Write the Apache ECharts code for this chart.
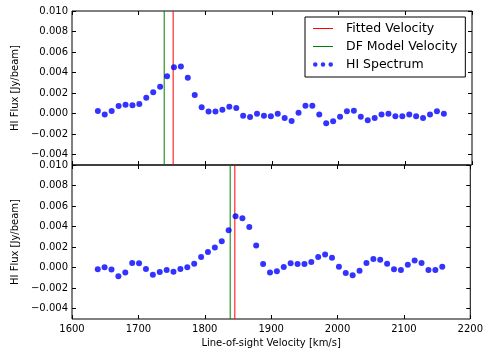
<!DOCTYPE html>
<html>
<head>
<meta charset="utf-8">
<script src="https://cdn.jsdelivr.net/npm/echarts@6/dist/echarts.min.js"></script>
<style>
html,body{margin:0;padding:0;background:#fff;}
#chart{width:486px;height:354px;}
</style>
</head>
<body>
<div id="chart"></div>
<script>
// ---- data ----
const velocity = [1638.8,1649.1,1659.5,1669.9,1680.3,1690.7,1701.0,1711.4,1721.8,1732.2,
  1742.6,1752.9,1763.3,1773.7,1784.1,1794.5,1804.8,1815.2,1825.6,1836.0,
  1846.4,1856.7,1867.1,1877.5,1887.9,1898.3,1908.6,1919.0,1929.4,1939.8,
  1950.2,1960.5,1970.9,1981.3,1991.7,2002.1,2012.4,2022.8,2033.2,2043.6,
  2054.0,2064.3,2074.7,2085.1,2095.5,2105.9,2116.2,2126.6,2137.0,2147.4,2157.8];
const fluxTop = [0.00026,-0.00007,0.00026,0.00075,0.00088,0.00081,0.00094,0.00156,0.00208,0.00263,
  0.00364,0.00452,0.00459,0.00351,0.00182,0.00062,0.0002,0.0002,0.00039,0.00068,
  0.00055,-0.0002,-0.00033,0,-0.0002,-0.00026,0,-0.00042,-0.00072,0.0001,
  0.00078,0.00078,-0.00007,-0.00094,-0.00075,-0.00029,0.00023,0.00029,-0.00029,-0.00065,
  -0.00042,-0.00007,0,-0.00026,-0.00026,-0.00007,-0.00026,-0.00042,-0.00007,0.00023,0];
const fluxBottom = [-0.00016,0.00003,-0.00019,-0.00084,-0.00048,0.00045,0.00042,-0.00013,-0.00068,-0.00042,
  -0.00023,-0.00039,-0.00013,0.00003,0.00039,0.00103,0.00152,0.00197,0.00258,0.00365,
  0.005,0.00481,0.00397,0.00216,0.00035,-0.00048,-0.00035,0.00006,0.00042,0.00035,
  0.00035,0.00055,0.00103,0.00129,0.00097,0.0001,-0.00052,-0.00074,-0.00029,0.00045,
  0.00084,0.00077,0.00039,-0.00016,-0.00023,0.00029,0.00071,0.00045,-0.00023,-0.00023,0.0001];
const fittedVelocity = [1751.7, 1845.3];   // top, bottom
const dfModelVelocity = [1738.3, 1838.3];  // top, bottom
const yTicks = [-0.004,-0.002,0,0.002,0.004,0.006,0.008,0.010];
const xMin = 1600, xMax = 2200, xStep = 100;
const yMin = -0.005, yMax = 0.010;

const FONT = 'DejaVu Sans';
const fmtY = v => (v < 0 ? '\u2212' : '') + Math.abs(v).toFixed(3);

function xAxes(gridIndex, showLabels) {
  const base = {
    type: 'value', gridIndex, min: xMin, max: xMax, interval: xStep,
    axisLine: {show: false, onZero: false}, splitLine: {show: false},
    axisTick: {show: true, inside: true, length: 4, lineStyle: {color: '#000'}}
  };
  return [
    Object.assign({}, base, {
      position: 'bottom',
      axisLabel: {show: showLabels, margin: 5, color: '#000', fontFamily: FONT, fontSize: 10,
        formatter: v => String(Math.round(v))},
      name: showLabels ? 'Line-of-sight Velocity [km/s]' : '',
      nameLocation: 'middle', nameGap: 19,
      nameTextStyle: {color: '#000', fontFamily: FONT, fontSize: 10}
    }),
    Object.assign({}, base, {position: 'top', axisLabel: {show: false}})
  ];
}
function yAxes(gridIndex) {
  const base = {
    type: 'value', gridIndex, min: yMin, max: yMax,
    axisLine: {show: false, onZero: false}, splitLine: {show: false},
    axisTick: {show: true, inside: true, length: 4, lineStyle: {color: '#000'}, customValues: yTicks}
  };
  return [
    Object.assign({}, base, {
      position: 'left',
      axisLabel: {show: true, margin: 4, color: '#000', fontFamily: FONT, fontSize: 10,
        customValues: yTicks, formatter: fmtY},
      name: 'HI Flux [Jy/beam]', nameLocation: 'middle', nameGap: 36, nameRotate: 90,
      nameTextStyle: {color: '#000', fontFamily: FONT, fontSize: 10}
    }),
    Object.assign({}, base, {position: 'right', axisLabel: {show: false}})
  ];
}

function panelSeries(k) {
  const xi = k * 2, yi = k * 2;
  return [
    {name: 'Fitted Velocity', type: 'line', xAxisIndex: xi, yAxisIndex: yi, symbol: 'none',
     lineStyle: {color: '#ff0000', width: 1}, itemStyle: {color: '#ff0000'}, z: 2,
     data: [[fittedVelocity[k], yMin], [fittedVelocity[k], yMax]]},
    {name: 'DF Model Velocity', type: 'line', xAxisIndex: xi, yAxisIndex: yi, symbol: 'none',
     lineStyle: {color: '#008000', width: 1}, itemStyle: {color: '#008000'}, z: 2,
     data: [[dfModelVelocity[k], yMin], [dfModelVelocity[k], yMax]]},
    {name: 'HI Spectrum', type: 'scatter', xAxisIndex: xi, yAxisIndex: yi, symbol: 'circle',
     symbolSize: 6, itemStyle: {color: '#0000ff'}, z: 3,
     data: velocity.map((v, i) => [v, (k === 0 ? fluxTop : fluxBottom)[i]])}
  ];
}

const lineIcon = 'path://M0,0H20V1H0Z';
const dotsIcon = 'path://M0,2.5a2.5,2.5 0 1,0 5,0a2.5,2.5 0 1,0 -5,0M8.5,2.5a2.5,2.5 0 1,0 5,0a2.5,2.5 0 1,0 -5,0M17,2.5a2.5,2.5 0 1,0 5,0a2.5,2.5 0 1,0 -5,0Z';

const chart = echarts.init(document.getElementById('chart'), null, {renderer: 'canvas'});
chart.setOption({
  animation: false,
  backgroundColor: '#fff',
  textStyle: {fontFamily: FONT},
  grid: [
    {left: 72, top: 11, width: 400, height: 154, show: true, borderColor: '#000', borderWidth: 1, backgroundColor: 'transparent'},
    {left: 72, top: 165, width: 400, height: 154, show: true, borderColor: '#000', borderWidth: 1, backgroundColor: 'transparent'}
  ],
  xAxis: [...xAxes(0, false), ...xAxes(1, true)],
  yAxis: [...yAxes(0), ...yAxes(1)],
  legend: {
    orient: 'vertical', left: 305, top: 17,
    padding: [5, 8, 6, 8], itemGap: 5, itemWidth: 20, itemHeight: 8,
    backgroundColor: '#fff', borderColor: '#000', borderWidth: 1,
    textStyle: {fontFamily: FONT, fontSize: 12.5, color: '#000', padding: [0, 0, 0, 8]},
    data: [
      {name: 'Fitted Velocity', icon: lineIcon, itemStyle: {color: '#ff0000'}},
      {name: 'DF Model Velocity', icon: lineIcon, itemStyle: {color: '#008000'}},
      {name: 'HI Spectrum', icon: dotsIcon}
    ]
  },
  series: [...panelSeries(0), ...panelSeries(1)]
});
</script>
</body>
</html>
